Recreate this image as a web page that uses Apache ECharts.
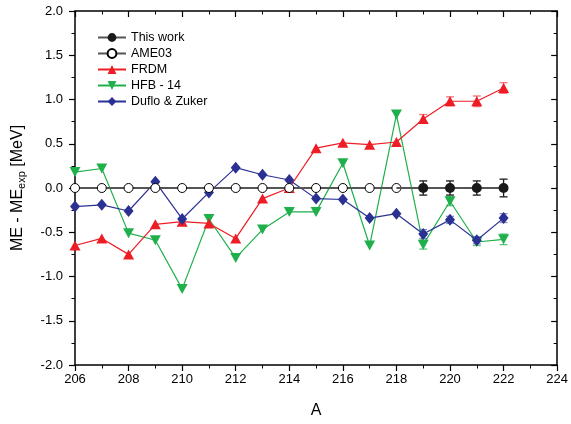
<!DOCTYPE html>
<html>
<head>
<meta charset="utf-8">
<script src="https://cdn.jsdelivr.net/npm/echarts@6/dist/echarts.min.js"></script>
<style>
  html, body { margin: 0; padding: 0; background: #fff; }
  #chart { width: 571px; height: 424px; }
</style>
</head>
<body>
<div id="chart"></div>
<script>
// mass numbers
const massNumbers = [206, 207, 208, 209, 210, 211, 212, 213, 214, 215, 216, 217, 218, 219, 220, 221, 222]
const frdm = [-0.65, -0.57, -0.75, -0.41, -0.38, -0.40, -0.57, -0.12, 0.0, 0.45, 0.51, 0.49, 0.52, 0.78, 0.98, 0.98, 1.13]
const hfb14 = [0.18, 0.22, -0.51, -0.59, -1.14, -0.35, -0.79, -0.47, -0.27, -0.27, 0.28, -0.65, 0.83, -0.64, -0.15, -0.61, -0.58]
const dufloZuker = [-0.21, -0.19, -0.26, 0.07, -0.35, -0.05, 0.23, 0.15, 0.09, -0.12, -0.13, -0.34, -0.29, -0.52, -0.36, -0.59, -0.34]
const ame03A = [206, 207, 208, 209, 210, 211, 212, 213, 214, 215, 216, 217, 218]
const ame03 = [0, 0, 0, 0, 0, 0, 0, 0, 0, 0, 0, 0, 0]
const thisWorkA = [219, 220, 221, 222]
const thisWork = [0, 0, 0, 0]
const thisWorkErr = [0.08, 0.08, 0.08, 0.1]
// error bars of the model series, only on the last four points
const errA = [219, 220, 221, 222]
const frdmErr = [0.05, 0.05, 0.06, 0.06]
const hfb14Err = [0.05, 0.05, 0.04, 0.06]
const dufloErr = [0.05, 0.04, 0.04, 0.05]

const pairs = (xs, ys) => xs.map((x, i) => [x, ys[i]])
const lastOf = (arr, n) => arr.slice(arr.length - n)

function errorBars(name, xs, ys, errs, color, z) {
  return {
    name: name,
    type: 'custom',
    z: z,
    silent: true,
    data: xs.map((x, i) => [x, ys[i] - errs[i], ys[i] + errs[i]]),
    renderItem: function (params, api) {
      const lo = api.coord([api.value(0), api.value(1)])
      const hi = api.coord([api.value(0), api.value(2)])
      const w = 4
      const style = { stroke: color, lineWidth: 1.3 }
      return {
        type: 'group',
        children: [
          { type: 'line', shape: { x1: lo[0], y1: lo[1], x2: hi[0], y2: hi[1] }, style: style },
          { type: 'line', shape: { x1: lo[0] - w, y1: lo[1], x2: lo[0] + w, y2: lo[1] }, style: style },
          { type: 'line', shape: { x1: hi[0] - w, y1: hi[1], x2: hi[0] + w, y2: hi[1] }, style: style }
        ]
      }
    }
  }
}

const red = '#ee1c25'
const green = '#1fb04b'
const blue = '#2b3192'
const downTri = 'path://M0,0 L10,0 L5,9 Z'
const font = 'Liberation Sans'

const chart = echarts.init(document.getElementById('chart'))
chart.setOption({
  animation: false,
  textStyle: { fontFamily: font },
  grid: { left: 75, right: 11, top: 11, bottom: 57 },
  legend: {
    data: ['This work', 'AME03', 'FRDM', 'HFB - 14', 'Duflo & Zuker'],
    orient: 'vertical',
    left: 92,
    top: 26,
    itemWidth: 28,
    itemHeight: 11,
    itemGap: 3,
    textStyle: { fontSize: 12.5, color: '#000', fontFamily: font }
  },
  xAxis: [
    {
      type: 'value', min: 206, max: 224, interval: 2,
      name: 'A', nameLocation: 'middle', nameGap: 38,
      nameTextStyle: { fontSize: 16, color: '#000' },
      axisLine: { onZero: false, lineStyle: { color: '#000', width: 1.5 } },
      axisTick: { inside: false, length: 6, lineStyle: { color: '#000', width: 1.2 } },
      minorTick: { show: true, splitNumber: 2, length: 3.5, lineStyle: { color: '#000' } },
      axisLabel: { fontSize: 13, color: '#000', margin: 8 },
      splitLine: { show: false }
    },
    {
      type: 'value', min: 206, max: 224, interval: 2, position: 'top',
      axisLine: { onZero: false, lineStyle: { color: '#000', width: 1.5 } },
      axisTick: { inside: true, length: 6, lineStyle: { color: '#000', width: 1.2 } },
      minorTick: { show: true, splitNumber: 2, length: 3.5, lineStyle: { color: '#000' } },
      axisLabel: { show: false },
      splitLine: { show: false }
    }
  ],
  yAxis: [
    {
      type: 'value', min: -2, max: 2, interval: 0.5,
      name: '{a|ME - ME}{b|exp}{a| [MeV]}', nameLocation: 'middle', nameGap: 48,
      nameTextStyle: {
        color: '#000',
        rich: {
          a: { fontSize: 16, color: '#000', fontFamily: font },
          b: { fontSize: 11, color: '#000', fontFamily: font, verticalAlign: 'bottom', padding: [8, 0, 0, 0] }
        }
      },
      axisLine: { onZero: false, lineStyle: { color: '#000', width: 1.5 } },
      axisTick: { inside: false, length: 6, lineStyle: { color: '#000', width: 1.2 } },
      minorTick: { show: true, splitNumber: 2, length: 3.5, lineStyle: { color: '#000' } },
      axisLabel: { fontSize: 13, color: '#000', margin: 12, formatter: v => v.toFixed(1) },
      splitLine: { show: false }
    },
    {
      type: 'value', min: -2, max: 2, interval: 0.5, position: 'right',
      axisLine: { onZero: false, lineStyle: { color: '#000', width: 1.5 } },
      axisTick: { inside: true, length: 6, lineStyle: { color: '#000', width: 1.2 } },
      minorTick: { show: true, splitNumber: 2, length: 3.5, lineStyle: { color: '#000' } },
      axisLabel: { show: false },
      splitLine: { show: false }
    }
  ],
  series: [
    {
      name: 'HFB - 14', type: 'line', z: 3,
      data: pairs(massNumbers, hfb14),
      symbol: downTri, symbolSize: [11, 10],
      lineStyle: { color: green, width: 1.2 },
      itemStyle: { color: green }
    },
    errorBars('hfbErr', errA, lastOf(hfb14, 4), hfb14Err, 'rgba(31,176,75,0.7)', 3),
    {
      name: 'FRDM', type: 'line', z: 4,
      data: pairs(massNumbers, frdm),
      symbol: 'triangle', symbolSize: [11, 10],
      lineStyle: { color: red, width: 1.2 },
      itemStyle: { color: red }
    },
    errorBars('frdmErr', errA, lastOf(frdm, 4), frdmErr, 'rgba(238,28,37,0.6)', 4),
    {
      name: 'Duflo & Zuker', type: 'line', z: 5,
      data: pairs(massNumbers, dufloZuker),
      symbol: 'diamond', symbolSize: [10, 12],
      lineStyle: { color: blue, width: 1.2 },
      itemStyle: { color: blue }
    },
    errorBars('dzErr', errA, lastOf(dufloZuker, 4), dufloErr, 'rgba(60,70,170,0.6)', 5),
    {
      name: 'AME03', type: 'line', z: 6,
      data: pairs(ame03A, ame03),
      symbol: 'circle', symbolSize: 9,
      lineStyle: { color: '#555', width: 1.8 },
      itemStyle: { color: '#fff', borderColor: '#000', borderWidth: 1 }
    },
    {
      name: 'This work', type: 'line', z: 7,
      data: pairs([218].concat(thisWorkA), [0].concat(thisWork)).map((p, i) =>
        i === 0 ? { value: p, symbol: 'none' } : p),
      symbol: 'circle', symbolSize: 10,
      lineStyle: { color: '#555', width: 1.8 },
      itemStyle: { color: '#1a1a1a' }
    },
    errorBars('twErr', thisWorkA, thisWork, thisWorkErr, '#1a1a1a', 7)
  ]
})
</script>
</body>
</html>
